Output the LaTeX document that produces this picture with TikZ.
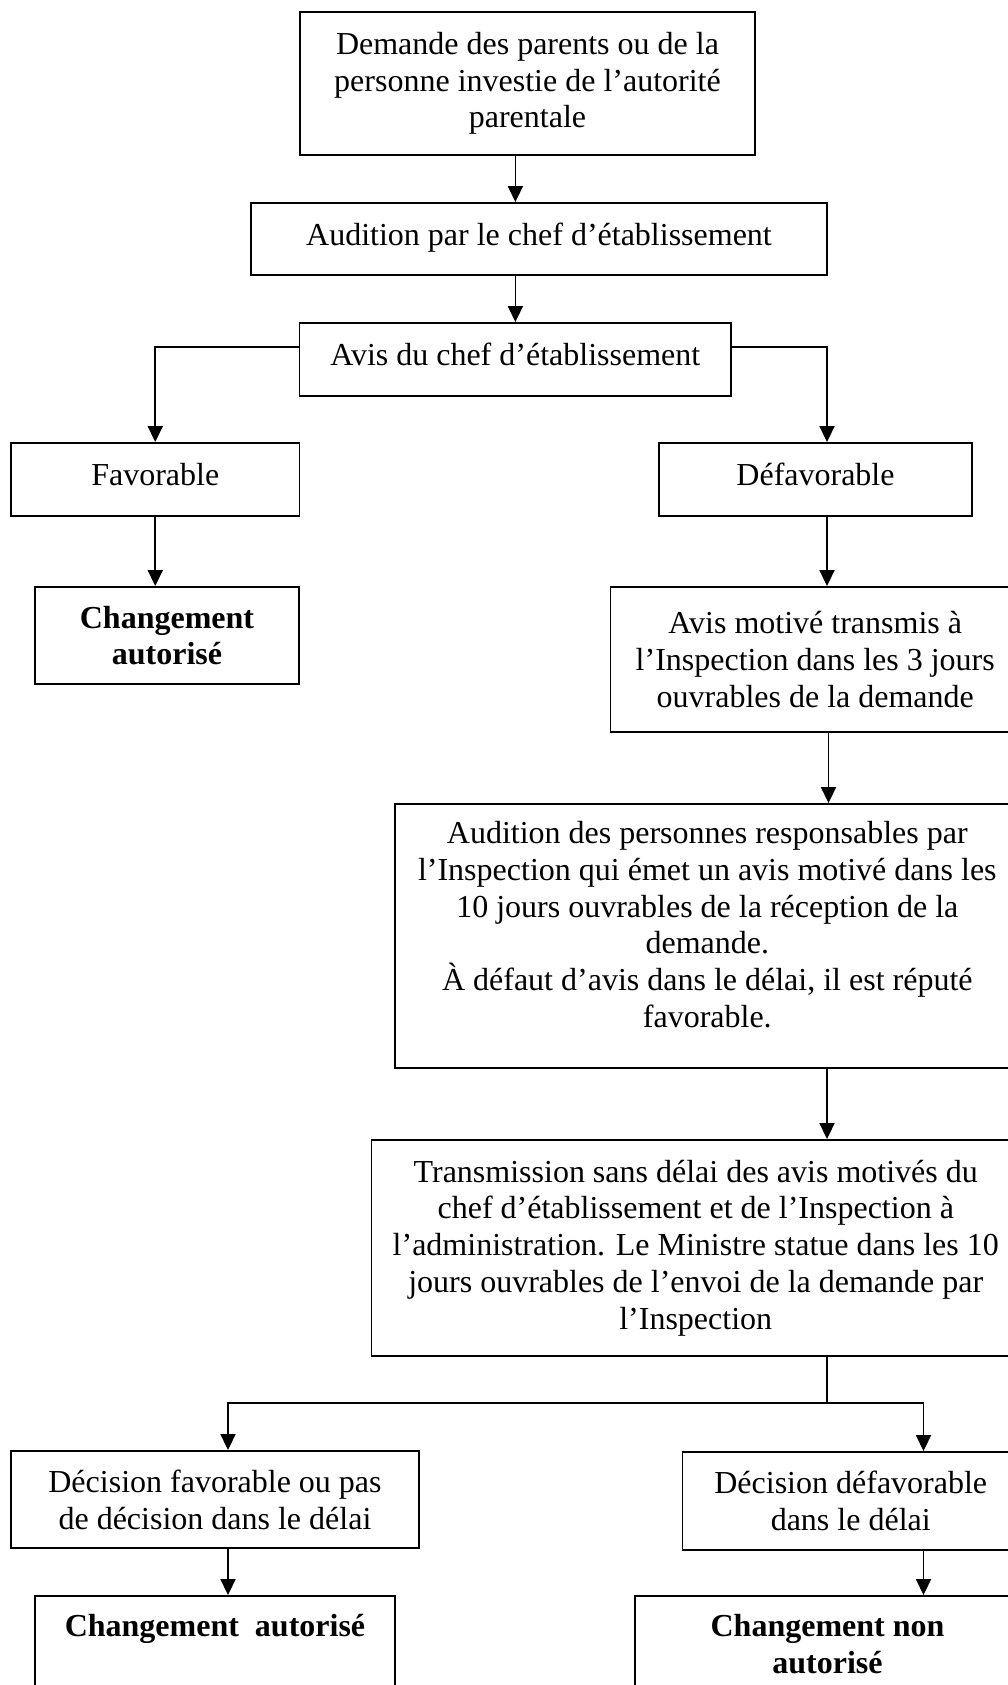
\documentclass[tikz,border=0pt]{standalone}
\usepackage{fontspec}
\setmainfont{Liberation Serif}
\usetikzlibrary{arrows.meta}
\tikzset{
 box/.style={draw, line width=1.9pt, rectangle, inner sep=0pt},
 txt/.style={align=center, inner sep=0pt, font=\fontsize{32}{36.8}\selectfont},
 btxt/.style={txt, font=\fontsize{32}{36.8}\selectfont\bfseries},
 conn/.style={line width=1.8pt, -{Triangle[length=16pt,width=15pt]}},
 plain/.style={line width=1.8pt},
}
\begin{document}
\begin{tikzpicture}[x=1pt,y=-1pt]
\useasboundingbox (0,0) rectangle (1008,1685);
\clip (0,0) rectangle (1008,1685);
% boxes
\node[box, minimum width=455pt, minimum height=143pt] (d) at (527.5,83.5) {};
\node[box, minimum width=576pt, minimum height=72pt] (aud) at (539,239) {};
\node[box, minimum width=431.5pt, minimum height=73pt] (avis) at (515.25,359.5) {};
\node[box, minimum width=288.5pt, minimum height=73pt] (fav) at (155.25,479.5) {};
\node[box, minimum width=313pt, minimum height=73pt] (defav) at (815.5,479.5) {};
\node[box, minimum width=264pt, minimum height=97pt] (chg1) at (167,635.5) {};
\node[box, minimum width=409.5pt, minimum height=145pt] (motive) at (815.25,659.5) {};
\node[box, minimum width=625.4pt, minimum height=264pt] (audp) at (707.3,936) {};
\node[box, minimum width=648.5pt, minimum height=216pt] (trans) at (695.75,1248) {};
\node[box, minimum width=408pt, minimum height=97pt] (decf) at (215,1499.5) {};
\node[box, minimum width=336.5pt, minimum height=98pt] (decd) at (850.75,1501) {};
\node[box, minimum width=360pt, minimum height=124pt] (chg2) at (215,1658) {};
\node[box, minimum width=385pt, minimum height=124pt] (chg3) at (827.5,1658) {};
% texts
\node[txt] (d-t) at (d.center) {Demande des parents ou de la\\personne investie de l’autorité\\parentale};
\node[txt, yshift=1pt] (aud-t) at (aud.center) {Audition par le chef d’établissement};
\node[txt, yshift=5pt] (avis-t) at (avis.center) {Avis du chef d’établissement};
\node[txt, yshift=5pt] (fav-t) at (fav.center) {Favorable};
\node[txt, yshift=5pt] (defav-t) at (defav.center) {Défavorable};
\node[btxt] (chg1-t) at (chg1.center) {Changement\\autorisé};
\node[txt] (motive-t) at (motive.center) {Avis motivé transmis à\\l’Inspection dans les 3 jours\\ouvrables de la demande};
\node[txt, anchor=north, yshift=-18pt] (audp-t) at (audp.north) {Audition des personnes responsables par\\l’Inspection qui émet un avis motivé dans les\\10 jours ouvrables de la réception de la\\demande.\\À défaut d’avis dans le délai, il est réputé\\favorable.};
\node[txt] (trans-t) at (trans.center) {Transmission sans délai des avis motivés du\\chef d’établissement et de l’Inspection à\\l’administration. Le Ministre statue dans les 10\\jours ouvrables de l’envoi de la demande par\\l’Inspection};
\node[txt] (decf-t) at (decf.center) {Décision favorable ou pas\\de décision dans le délai};
\node[txt] (decd-t) at (decd.center) {Décision défavorable\\dans le délai};
\node[btxt, anchor=north, yshift=-19pt] (chg2-t) at (chg2.north) {Changement\ \ autorisé};
\node[btxt, anchor=north, yshift=-19pt] (chg3-t) at (chg3.north) {Changement non\\autorisé};
% connectors
\coordinate (xa) at (515.4,0);
\coordinate (ya) at (0,347);
\coordinate (xr) at (827,0);
\coordinate (xr2) at (828.5,0);
\coordinate (yb) at (0,1403);
\coordinate (xl) at (228,0);
\coordinate (xrr) at (923.5,0);
\draw[conn] (d.south -| xa) -- (aud.north -| xa);
\draw[conn] (aud.south -| xa) -- (avis.north -| xa);
\draw[conn] (avis.west |- ya) -| (fav.north);
\draw[conn] (avis.east |- ya) -| (defav.north -| xr);
\draw[conn] (fav.south) -- (chg1.north -| fav.south);
\draw[conn] (defav.south -| xr) -- (motive.north -| xr);
\draw[conn] (motive.south -| xr2) -- (audp.north -| xr2);
\draw[conn] (audp.south -| xr) -- (trans.north -| xr);
\draw[plain] (trans.south -| xr) -- (xr |- yb);
\draw[conn] (xr |- yb) -| (decf.north -| xl);
\draw[conn] (xr |- yb) -| (decd.north -| xrr);
\draw[conn] (decf.south -| xl) -- (chg2.north -| xl);
\draw[conn] (decd.south -| xrr) -- (chg3.north -| xrr);
\end{tikzpicture}
\end{document}
